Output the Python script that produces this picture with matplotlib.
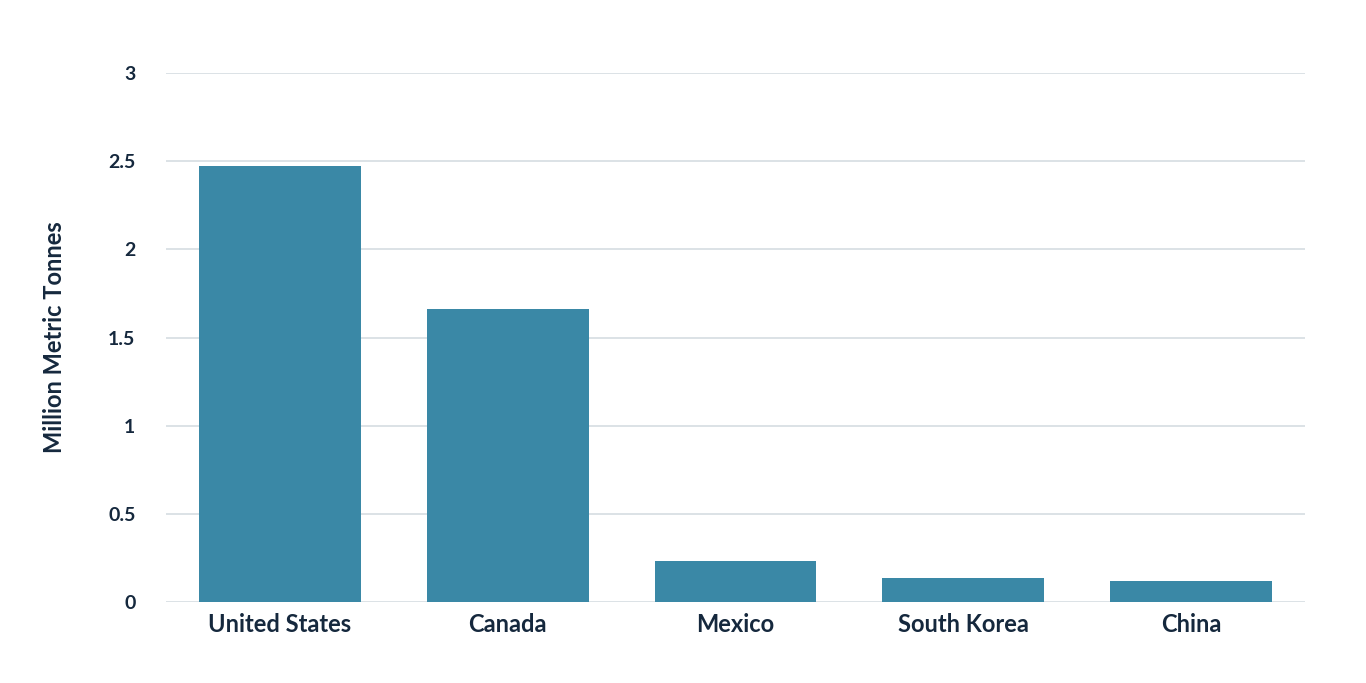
import matplotlib
matplotlib.use("Agg")
import matplotlib.pyplot as plt

categories = ["United States", "Canada", "Mexico", "South Korea", "China"]
values = [2.47, 1.66, 0.23, 0.135, 0.12]
yticks = [0, 0.5, 1, 1.5, 2, 2.5, 3]
ytick_labels = ["0", "0.5", "1", "1.5", "2", "2.5", "3"]

plt.rcParams['font.family'] = ['Lato', 'DejaVu Sans']
txt = "#15283d"
fig = plt.figure(figsize=(13.66, 6.83), dpi=100)
ax = fig.add_axes([0.1215, 0.1186, 0.8338, 0.7745])
ax.bar(range(len(categories)), values, width=0.71, color="#3a88a6", zorder=3)
ax.set_xlim(-0.5, 4.5)
ax.set_ylim(0, 3)
ax.set_yticks(yticks)
ax.set_yticklabels(ytick_labels, fontsize=14, fontweight='bold', color=txt)
ax.set_xticks(range(len(categories)))
ax.set_xticklabels(categories, fontsize=17, fontweight='bold', color=txt)
ax.tick_params(axis='both', length=0)
ax.tick_params(axis='y', pad=22)
ax.tick_params(axis='x', pad=8)
ax.grid(axis='y', color="#d5dde2", linewidth=1.2, zorder=0)
for s in ax.spines.values():
    s.set_visible(False)
ax.set_ylabel("Million Metric Tonnes", fontsize=17, fontweight='bold', color=txt, labelpad=30)
fig.savefig("out.png", dpi=100, facecolor="white")
